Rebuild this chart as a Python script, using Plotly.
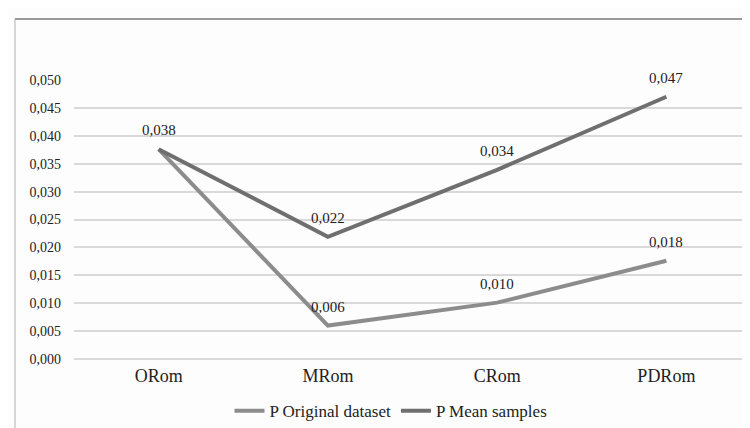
import plotly.graph_objects as go

categories = ["ORom", "MRom", "CRom", "PDRom"]
p_original = [0.0376, 0.0060, 0.0101, 0.0176]
p_mean = [0.0376, 0.0219, 0.0339, 0.0470]
series_names = ["P Original dataset", "P Mean samples"]
series_colors = ["#8c8c8c", "#6f6f6f"]

FONT = "Liberation Serif"

fig = go.Figure()
for name, vals, col in zip(series_names, [p_original, p_mean], series_colors):
    fig.add_trace(go.Scatter(x=categories, y=vals, name=name, mode="lines",
                             line=dict(color=col, width=4)))

annotations = []
seen = set()
for vals in [p_original, p_mean]:
    for c, v in zip(categories, vals):
        txt = f"{v:.3f}".replace(".", ",")
        if (c, txt) in seen:
            continue
        seen.add((c, txt))
        annotations.append(dict(x=c, y=v, xref="x", yref="y", text=txt,
                                showarrow=False, yshift=19,
                                font=dict(family=FONT, size=15, color="#222222")))

W, H = 750, 428
L, R, T, B = 66, 7, 72, 73
pw, ph = W - L - R, H - T - B
def px_x(x): return (x - L) / pw
def px_y(y): return (H - B - y) / ph

shapes = [
    dict(type="line", xref="paper", yref="paper", x0=px_x(7), x1=px_x(760), y0=px_y(10), y1=px_y(10),
         line=dict(color="#9a9a9a", width=2)),
    dict(type="line", xref="paper", yref="paper", x0=px_x(7), x1=px_x(7), y0=px_y(10), y1=px_y(440),
         line=dict(color="#b0b0b0", width=1)),
]

fig.update_layout(
    width=W, height=H,
    margin=dict(l=L, r=R, t=T, b=B),
    paper_bgcolor="#fdfdfd", plot_bgcolor="#fdfdfd",
    separators=",.",
    font=dict(family=FONT, size=14, color="#222222"),
    xaxis=dict(range=[-0.5, 3.5], showgrid=False, showline=False, ticks="",
               tickfont=dict(family=FONT, size=18, color="#222222"), ticklabelstandoff=4),
    yaxis=dict(range=[0, 0.050], dtick=0.005, tickformat=".3f", showgrid=True,
               gridcolor="#d9d9d9", gridwidth=1.5, zeroline=True, zerolinecolor="#d9d9d9",
               zerolinewidth=1.5, showline=False, ticks="", ticklabelstandoff=12,
               tickfont=dict(family=FONT, size=14, color="#222222")),
    legend=dict(orientation="h", x=px_x(383), xanchor="center", y=px_y(408), yanchor="middle",
                font=dict(family=FONT, size=17, color="#222222"), itemwidth=30, tracegroupgap=0),
    annotations=annotations,
    shapes=shapes,
    showlegend=True,
)

fig.write_html("out.html")
